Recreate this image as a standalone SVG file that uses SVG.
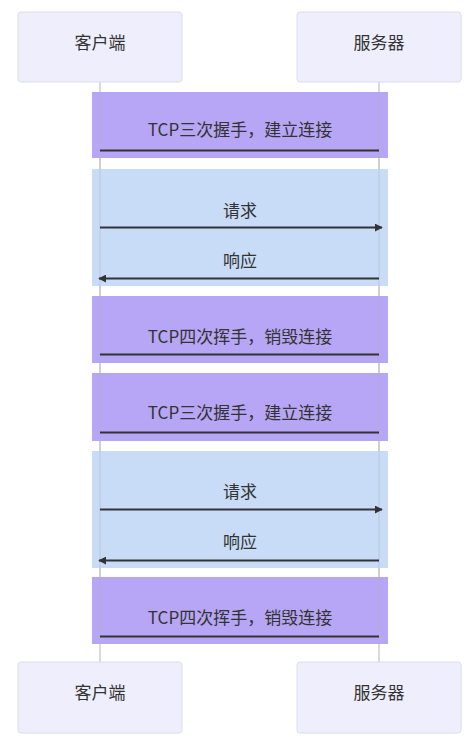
<svg xmlns="http://www.w3.org/2000/svg" width="475" height="739" viewBox="0 0 475 739">
<defs>
<marker id="arrow" viewBox="0 0 10 10" refX="9" refY="5" markerWidth="8" markerHeight="8" orient="auto-start-reverse" markerUnits="userSpaceOnUse">
<path d="M0,0 L10,5 L0,10 z" fill="#333"/>
</marker>
<style>
.actor rect{fill:#eeeefc;stroke:#dcdcef;stroke-width:1}
.t{font-family:"Noto Sans CJK SC","Noto Sans",sans-serif;font-size:17px;fill:#333;text-anchor:middle}
.lifeline{stroke:#b4b4b4;stroke-width:1}
.purple{fill:#b6a6f5}
.blue{fill:#c8dcf8}
.msg{stroke:#333;stroke-width:1.8;fill:none}
</style>
</defs>
<rect width="475" height="739" fill="#ffffff"/>
<g id="lifelines">
<line class="lifeline" x1="100" y1="82" x2="100" y2="662"/>
<line class="lifeline" x1="379" y1="82" x2="379" y2="662"/>
</g>
<g id="blocks">
<rect class="purple" x="92" y="92" width="296" height="66"/>
<rect class="blue" x="92" y="169" width="296" height="117"/>
<rect class="purple" x="92" y="296" width="296" height="67"/>
<rect class="purple" x="92" y="373" width="296" height="68"/>
<rect class="blue" x="92" y="451" width="296" height="117"/>
<rect class="purple" x="92" y="577" width="296" height="67"/>
</g>
<g id="lifelines-over" opacity="0.5">
<line class="lifeline" x1="100" y1="92" x2="100" y2="644"/>
<line class="lifeline" x1="379" y1="92" x2="379" y2="644"/>
</g>
<g id="actor-client-top" class="actor">
<rect x="18" y="12" width="164" height="70" rx="3"/>
<text class="t" x="100" y="44" dominant-baseline="middle">客户端</text>
</g>
<g id="actor-server-top" class="actor">
<rect x="297" y="12" width="164" height="70" rx="3"/>
<text class="t" x="379" y="44" dominant-baseline="middle">服务器</text>
</g>
<g id="actor-client-bottom" class="actor">
<rect x="18" y="662" width="164" height="71" rx="3"/>
<text class="t" x="100" y="694" dominant-baseline="middle">客户端</text>
</g>
<g id="actor-server-bottom" class="actor">
<rect x="297" y="662" width="164" height="71" rx="3"/>
<text class="t" x="379" y="694" dominant-baseline="middle">服务器</text>
</g>
<g id="connectors">
<line class="msg" x1="100" y1="150.5" x2="379" y2="150.5"/>
<line class="msg" x1="100" y1="227.5" x2="382" y2="227.5" marker-end="url(#arrow)"/>
<line class="msg" x1="379" y1="278.5" x2="99" y2="278.5" marker-end="url(#arrow)"/>
<line class="msg" x1="100" y1="354.5" x2="379" y2="354.5"/>
<line class="msg" x1="100" y1="432.5" x2="379" y2="432.5"/>
<line class="msg" x1="100" y1="509.5" x2="382" y2="509.5" marker-end="url(#arrow)"/>
<line class="msg" x1="379" y1="560.5" x2="99" y2="560.5" marker-end="url(#arrow)"/>
<line class="msg" x1="100" y1="636.5" x2="379" y2="636.5"/>
</g>
<g id="labels">
<text class="t" x="240" y="131" dominant-baseline="middle">TCP三次握手，建立连接</text>
<text class="t" x="240" y="212" dominant-baseline="middle">请求</text>
<text class="t" x="240" y="262" dominant-baseline="middle">响应</text>
<text class="t" x="240" y="338" dominant-baseline="middle">TCP四次挥手，销毁连接</text>
<text class="t" x="240" y="414" dominant-baseline="middle">TCP三次握手，建立连接</text>
<text class="t" x="240" y="493" dominant-baseline="middle">请求</text>
<text class="t" x="240" y="543" dominant-baseline="middle">响应</text>
<text class="t" x="240" y="619" dominant-baseline="middle">TCP四次挥手，销毁连接</text>
</g>
</svg>
